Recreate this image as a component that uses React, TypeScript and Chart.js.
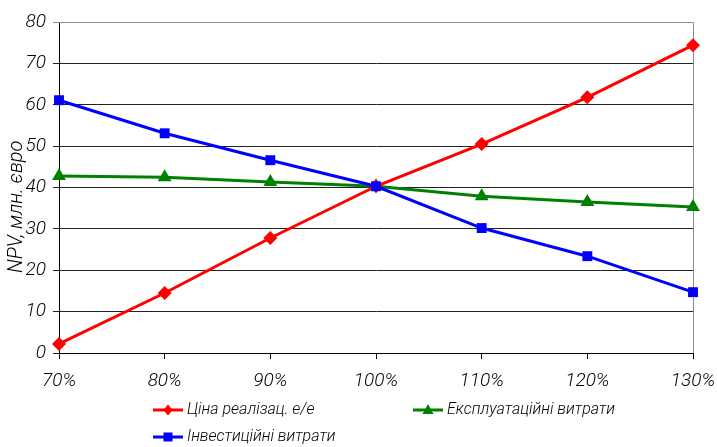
import React, { useEffect, useRef } from "react";
import { Chart, registerables } from "chart.js";

Chart.register(...registerables);

const categories = ["70%", "80%", "90%", "100%", "110%", "120%", "130%"];
const priceValues = [2.2, 14.5, 27.8, 40.3, 50.5, 61.8, 74.4];
const investValues = [61.1, 53.1, 46.6, 40.3, 30.2, 23.4, 14.7];
const operValues = [42.8, 42.5, 41.3, 40.3, 37.9, 36.5, 35.3];
const priceLabel = "Ціна реалізац. е/е";
const investLabel = "Інвестиційні витрати";
const operLabel = "Експлуатаційні витрати";
const yTitle = "NPV, млн. євро";

const FONT = "Roboto, 'Liberation Sans', sans-serif";

const legendPlugin = {
  id: "customLegend",
  afterDraw(chart: any) {
    const ctx = chart.ctx;
    const items = [
      { idx: 1, x: 153, y: 410 },
      { idx: 2, x: 413, y: 410 },
      { idx: 0, x: 153, y: 437 },
    ];
    ctx.save();
    for (const it of items) {
      const ds = chart.data.datasets[it.idx];
      ctx.strokeStyle = ds.borderColor;
      ctx.lineWidth = 3;
      ctx.beginPath();
      ctx.moveTo(it.x, it.y);
      ctx.lineTo(it.x + 30, it.y);
      ctx.stroke();
      ctx.fillStyle = ds.backgroundColor;
      const cx = it.x + 15;
      ctx.beginPath();
      if (ds.pointStyle === "rect") {
        ctx.rect(cx - 4.5, it.y - 4.5, 9, 9);
      } else if (ds.pointStyle === "rectRot") {
        ctx.moveTo(cx, it.y - 5.5);
        ctx.lineTo(cx + 4.5, it.y);
        ctx.lineTo(cx, it.y + 5.5);
        ctx.lineTo(cx - 4.5, it.y);
        ctx.closePath();
      } else {
        ctx.moveTo(cx, it.y - 6);
        ctx.lineTo(cx + 5.5, it.y + 4);
        ctx.lineTo(cx - 5.5, it.y + 4);
        ctx.closePath();
      }
      ctx.fill();
      ctx.fillStyle = "#000";
      ctx.font = `italic 300 16px ${FONT}`;
      ctx.textBaseline = "middle";
      ctx.textAlign = "left";
      ctx.fillText(ds.label, it.x + 34, it.y);
    }
    ctx.restore();
  },
};

const borderPlugin = {
  id: "plotBorder",
  beforeDatasetsDraw(chart: any) {
    const { ctx, chartArea } = chart;
    ctx.save();
    ctx.strokeStyle = "#8c8c8c";
    ctx.lineWidth = 1;
    ctx.beginPath();
    ctx.moveTo(chartArea.left, chartArea.top + 0.5);
    ctx.lineTo(chartArea.right + 0.5, chartArea.top + 0.5);
    ctx.lineTo(chartArea.right + 0.5, chartArea.bottom);
    ctx.stroke();
    ctx.restore();
  },
};

const tickFont = { family: FONT, size: 19, style: "italic" as const, weight: 300 as any };
const titleFont = { family: FONT, size: 20, style: "italic" as const, weight: 300 as any };

export default function App() {
  const ref = useRef<HTMLCanvasElement>(null);
  useEffect(() => {
    if (!ref.current) return;
    const chart = new Chart(ref.current, {
      type: "line",
      data: {
        labels: categories,
        datasets: [
          {
            label: investLabel,
            data: investValues,
            borderColor: "#0000ff",
            backgroundColor: "#0000ff",
            borderWidth: 3,
            pointStyle: "rect",
            pointRadius: 7,
            pointHoverRadius: 7,
            pointBorderWidth: 0,
          },
          {
            label: priceLabel,
            data: priceValues,
            borderColor: "#ff0000",
            backgroundColor: "#ff0000",
            borderWidth: 3,
            pointStyle: "rectRot",
            pointRadius: 7,
            pointHoverRadius: 7,
            pointBorderWidth: 0,
          },
          {
            label: operLabel,
            data: operValues,
            borderColor: "#008000",
            backgroundColor: "#008000",
            borderWidth: 3,
            pointStyle: "triangle",
            pointRadius: 8,
            pointHoverRadius: 8,
            pointBorderWidth: 0,
          },
        ],
      },
      options: {
        animation: false,
        responsive: true,
        maintainAspectRatio: false,
        layout: { padding: { left: 0, right: 24, top: 22, bottom: 0 } },
        plugins: { legend: { display: false }, tooltip: { enabled: false } },
        scales: {
          x: {
            offset: false,
            afterFit: (s: any) => {
              s.height = 94;
              s.paddingLeft = 0;
              s.paddingRight = 0;
            },
            grid: {
              drawOnChartArea: false,
              drawTicks: true,
              tickLength: 6,
              color: "#000",
            },
            border: { color: "#000", width: 1 },
            ticks: {
              color: "#000",
              padding: 11,
              maxRotation: 0,
              font: tickFont,
            },
          },
          y: {
            min: 0,
            max: 80,
            afterFit: (s: any) => {
              s.width = 59;
              s.paddingTop = 0;
              s.paddingBottom = 0;
            },
            grid: {
              drawTicks: true,
              tickLength: 6,
              color: (c: any) => (c.tick && c.tick.value === 80 ? "#8c8c8c" : "#222"),
            },
            border: { color: "#000", width: 1 },
            ticks: {
              stepSize: 10,
              color: "#000",
              padding: 7,
              font: tickFont,
            },
            title: {
              display: true,
              text: yTitle + "        ",
              color: "#000",
              padding: { top: 5, bottom: 0 },
              font: titleFont,
            },
          },
        },
      },
      plugins: [borderPlugin, legendPlugin],
    });
    return () => chart.destroy();
  }, []);
  return (
    <div style={{ position: "absolute", left: 0, top: 0, width: 717, height: 447, background: "#fff" }}>
      <canvas ref={ref} />
    </div>
  );
}
